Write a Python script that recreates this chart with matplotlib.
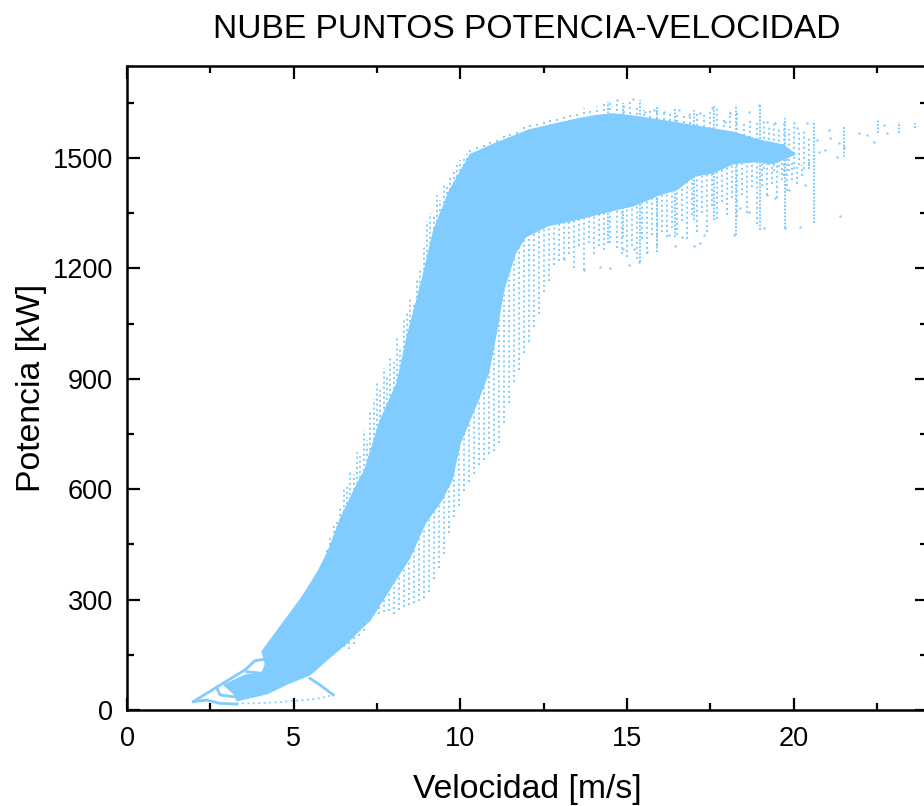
import matplotlib
matplotlib.use('Agg')
import matplotlib.pyplot as plt
from matplotlib.ticker import MultipleLocator

plt.rc('font', family='Liberation Sans')

color = '#80CCFF'

# Outline of the solid part of the cloud
body_x = [3.19, 2.9, 3.54, 4.04, 4.15, 4.05, 4.45, 5.25, 5.75, 6.05, 6.42, 6.92, 7.13, 7.6,
          8.1, 8.4, 8.85, 9.2, 9.68, 10.3, 11.05, 12.05, 13.0, 13.6, 14.1, 14.6, 15.2, 16.22, 17.21,
          18.2, 18.92, 19.7, 20.05, 19.4, 18.92, 18.2, 17.6, 17.0, 16.52, 15.92, 15.2, 14.6, 13.6,
          12.61, 11.95, 11.65, 11.3, 11.1, 10.85, 10.5, 10.0, 9.75, 9.45, 8.95, 8.5, 8.0,
          7.3, 6.55, 6.05, 5.5, 4.8, 4.2, 3.3]
body_y = [45, 68, 95, 100, 125, 159, 209, 307, 380, 435, 524, 617, 652, 788,
          889, 1014, 1168, 1304, 1413, 1510, 1540, 1576, 1596, 1608, 1616, 1620, 1614, 1600, 1585,
          1570, 1550, 1535, 1510, 1485, 1490, 1485, 1460, 1450, 1415, 1398, 1370, 1358, 1335,
          1315, 1285, 1240, 1141, 1033, 916, 834, 726, 625, 571, 508, 416, 345,
          245, 178, 140, 96, 70, 44, 25]

# Traces at the low wind end
trace1_x = [1.99, 2.69, 3.54, 3.84, 4.14, 4.35]
trace1_y = [23, 62, 109, 134, 138, 170]
trace2_x = [1.99, 2.39, 2.79, 3.29]
trace2_y = [23, 27, 18, 16]
trace3_x = [2.69, 2.79, 3.19]
trace3_y = [62, 41, 36]
trace4_x = [3.59, 4.04]
trace4_y = [104, 100]
trace5_x = [5.49, 5.79, 6.19]
trace5_y = [86, 68, 41]
tail_x = [3.29, 3.79, 4.29, 4.79, 5.29, 5.79, 6.19]
tail_y = [18, 18, 20, 23, 27, 32, 41]

# Loose columns of points on the left side of the curve
left_x = [6.0, 6.1, 6.2, 6.3, 6.4, 6.5, 6.6, 6.7, 6.8, 6.9, 7.0, 7.1, 7.2, 7.3, 7.4, 7.5, 7.6, 7.7, 7.8, 7.9, 8.0,
          8.1, 8.2, 8.3, 8.4, 8.5, 8.6, 8.7, 8.8, 8.9, 9.0, 9.1, 9.2, 9.3, 9.4, 9.5, 9.6, 9.7, 9.8, 9.9, 10.0, 10.1, 10.2]
left_lo = [415, 435, 455, 478, 500, 524, 545, 570, 585, 600, 617, 635, 650, 680, 720, 745, 770, 790, 815, 840, 860,
           880, 890, 930, 975, 1014, 1040, 1080, 1120, 1155, 1190, 1225, 1265, 1300, 1330, 1350, 1375, 1400, 1415, 1435, 1450, 1465, 1480]
left_hi = [440, 470, 505, 520, 548, 600, 605, 652, 640, 700, 690, 760, 735, 810, 845, 890, 870, 930, 905, 960, 945,
           1010, 985, 1060, 1085, 1120, 1110, 1170, 1200, 1260, 1330, 1350, 1345, 1400, 1385, 1430, 1425, 1450, 1470, 1480, 1495, 1505, 1510]

# Loose columns on the right side of the curve
right_x = [6.5, 6.65, 6.8, 6.95, 7.1, 7.25, 7.4, 7.55, 7.7, 7.85, 8.0, 8.15, 8.3, 8.45, 8.6, 8.75, 8.9, 9.05, 9.2,
           9.35, 9.5, 9.65, 9.8, 9.95, 10.1, 10.25, 10.4, 10.55, 10.7, 10.85, 11.0, 11.15, 11.3, 11.45, 11.6, 11.75,
           11.9, 12.05, 12.2, 12.35, 12.5, 12.65, 12.8, 12.95, 13.1, 13.25, 13.4, 13.55, 13.7, 13.85, 14.0, 14.15, 14.3]
right_lo = [170, 165, 180, 200, 215, 240, 258, 262, 265, 270, 262, 272, 280, 285, 290, 295, 305, 320, 355,
            385, 425, 480, 525, 555, 595, 620, 640, 665, 680, 695, 705, 725, 780, 835, 890, 925,
            970, 1000, 1040, 1075, 1135, 1165, 1210, 1220, 1225, 1240, 1200, 1260, 1195, 1270, 1240, 1260, 1250]
right_hi = [200, 205, 215, 230, 250, 275, 300, 325, 340, 365, 385, 405, 425, 445, 470, 495, 525, 555, 580,
            605, 630, 660, 690, 750, 810, 850, 880, 930, 1000, 1050, 1150, 1180, 1230, 1250, 1260, 1280,
            1300, 1310, 1315, 1320, 1325, 1330, 1332, 1335, 1338, 1340, 1345, 1348, 1350, 1355, 1358, 1362, 1365]

# Loose columns above the plateau
top_x = [10.3, 10.5, 10.7, 10.9, 11.1, 11.3, 11.5, 11.7, 11.9, 12.1, 12.3, 12.5, 12.7, 12.9, 13.1, 13.3, 13.5, 13.7,
         13.9, 14.1, 14.3, 14.5, 14.7, 14.9, 15.1, 15.3, 15.5, 15.7, 15.9, 16.1, 16.3, 16.5, 16.7, 16.9, 17.1, 17.3,
         17.5, 17.7, 17.9, 18.1, 18.3, 18.5, 18.7, 18.9, 19.1, 19.25, 19.4, 19.55, 19.7, 19.85, 20.0, 20.15, 20.3, 20.45]
top_lo = [1503, 1510, 1515, 1525, 1530, 1540, 1545, 1552, 1565, 1570, 1574, 1580, 1583, 1588, 1592, 1597, 1600, 1605,
          1608, 1612, 1615, 1618, 1615, 1610, 1605, 1603, 1600, 1596, 1592, 1590, 1588, 1585, 1582, 1578, 1574, 1570,
          1566, 1560, 1556, 1553, 1548, 1545, 1540, 1535, 1470, 1480, 1465, 1475, 1450, 1465, 1470, 1480, 1470, 1478]
top_hi = [1525, 1530, 1535, 1548, 1550, 1565, 1570, 1575, 1585, 1590, 1592, 1600, 1605, 1610, 1620, 1622, 1625, 1635,
          1636, 1640, 1650, 1655, 1653, 1650, 1655, 1640, 1630, 1635, 1635, 1630, 1628, 1625, 1620, 1622, 1620, 1625,
          1630, 1635, 1610, 1625, 1622, 1600, 1610, 1600, 1600, 1590, 1595, 1585, 1595, 1580, 1590, 1570, 1575, 1560]

# Loose columns below the plateau
low_x = [14.5, 14.7, 14.85, 15.0, 15.15, 15.3, 15.45, 15.6, 15.75, 15.9, 16.05, 16.2, 16.35, 16.5, 16.65, 16.8, 16.95,
         17.1, 17.25, 17.4, 17.55, 17.7, 17.85, 18.0, 18.15, 18.3, 18.45, 18.6, 18.75, 18.9, 19.05, 19.2, 19.35, 19.5,
         19.65, 19.8, 19.95, 20.1, 20.25, 20.45]
low_lo = [1270, 1255, 1240, 1230, 1260, 1225, 1280, 1240, 1290, 1260, 1300, 1285, 1310, 1290, 1330, 1280, 1345,
          1300, 1350, 1300, 1370, 1335, 1380, 1345, 1390, 1340, 1400, 1350, 1420, 1320, 1425, 1400, 1430, 1390,
          1440, 1410, 1440, 1430, 1450, 1470]
low_hi = [1360, 1365, 1365, 1370, 1372, 1375, 1380, 1385, 1395, 1405, 1410, 1415, 1420, 1430, 1435, 1440, 1448,
          1460, 1462, 1465, 1470, 1480, 1485, 1490, 1490, 1495, 1498, 1500, 1500, 1500, 1505, 1500, 1510, 1510,
          1505, 1500, 1495, 1480, 1480, 1490]

# The stronger vertical streaks at high wind
streak_x = [14.44, 14.89, 15.38, 15.89, 16.43, 17.0, 17.6, 18.26, 18.98, 19.73, 20.6, 21.5, 22.52, 23.15, 23.63]
streak_lo = [1269, 1285, 1217, 1245, 1285, 1332, 1332, 1291, 1304, 1310, 1323, 1503, 1568, 1568, 1582]
streak_hi = [1652, 1649, 1658, 1639, 1636, 1630, 1644, 1644, 1644, 1609, 1595, 1584, 1603, 1598, 1595]

# Single points
stray_x = [14.7, 15.17, 15.55, 15.8, 16.1, 16.55, 16.85, 17.2, 17.55, 17.95, 18.1, 18.65, 18.95, 19.2,
           19.45, 20.0, 20.1, 20.4, 20.7, 21.05, 21.1, 21.35, 21.95, 22.2, 22.4, 22.7, 22.8, 20.95,
           20.75, 21.3, 21.5, 14.5, 15.05, 15.37, 14.88, 15.2, 15.6, 16.25, 16.45, 16.65, 17.0, 17.2,
           17.3, 18.2, 18.4, 18.65, 19.1, 19.2, 19.45, 19.75, 20.2, 19.85, 20.35, 21.38, 13.1, 13.7, 14.2]
stray_y = [1658, 1659, 1626, 1630, 1626, 1630, 1617, 1621, 1635, 1599, 1621, 1626, 1644, 1599,
           1594, 1594, 1581, 1594, 1549, 1576, 1553, 1540, 1567, 1562, 1544, 1590, 1567, 1522,
           1517, 1504, 1531, 1200, 1209, 1218, 1254, 1254, 1245, 1291, 1261, 1286, 1262, 1268,
           1291, 1291, 1363, 1354, 1309, 1399, 1390, 1309, 1313, 1413, 1427, 1343, 1225, 1195, 1205]

fig = plt.figure(figsize=(9.24, 8.06), dpi=100)
ax = fig.add_axes([127/924, 96/806, 800/924, 644/806])

ax.fill(body_x, body_y, color=color, lw=0.8)
for tx, ty in [(trace1_x, trace1_y), (trace2_x, trace2_y), (trace3_x, trace3_y),
               (trace4_x, trace4_y), (trace5_x, trace5_y)]:
    ax.plot(tx, ty, color=color, lw=2.0)
ax.plot(tail_x, tail_y, color=color, lw=1.3, ls=(0, (1, 2)))

# Columns of dots
dots = (0, (1, 1.6))
ax.vlines(left_x, left_lo, left_hi, colors=color, lw=1.4, linestyles=dots)
ax.vlines(right_x, right_lo, right_hi, colors=color, lw=1.4, linestyles=dots)
ax.vlines(top_x, top_lo, top_hi, colors=color, lw=1.4, linestyles=dots)
ax.vlines(low_x, low_lo, low_hi, colors=color, lw=1.4, linestyles=dots)
ax.vlines(streak_x, streak_lo, streak_hi, colors=color, lw=1.4, linestyles=(0, (1, 0.8)))
ax.scatter(stray_x, stray_y, s=3, color=color, lw=0)

# Axes details
ax.set_xlim(0, 24)
ax.set_ylim(0, 1750)
ax.xaxis.set_major_locator(MultipleLocator(5))
ax.xaxis.set_minor_locator(MultipleLocator(2.5))
ax.yaxis.set_major_locator(MultipleLocator(300))
ax.yaxis.set_minor_locator(MultipleLocator(150))
ax.tick_params(which='major', direction='in', length=9, width=1.6, top=True, right=True, labelsize=19.5, pad=10)
ax.tick_params(axis='x', which='major', pad=11.5)
ax.tick_params(which='minor', direction='in', length=5, width=1.6, top=True, right=True)
for s in ax.spines.values():
    s.set_linewidth(1.8)
ax.set_xlabel('Velocidad [m/s]', fontsize=24.3, labelpad=16)
ax.set_ylabel('Potencia [kW]', fontsize=24.3, labelpad=4)
ax.set_title('NUBE PUNTOS POTENCIA-VELOCIDAD', fontsize=24.1, pad=20)

fig.savefig('out.png', dpi=100)
